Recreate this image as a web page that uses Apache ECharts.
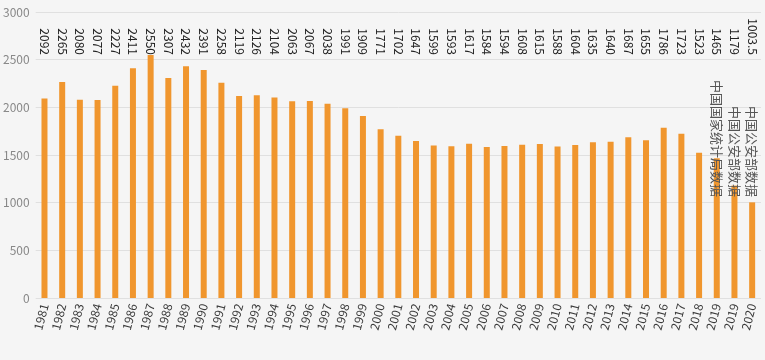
<!DOCTYPE html>
<html>
<head>
<meta charset="utf-8">
<script src="https://cdn.jsdelivr.net/npm/echarts@6/dist/echarts.min.js"></script>
<style>
html,body{margin:0;padding:0;background:#f5f5f5;}
#chart{width:765px;height:360px;}
</style>
</head>
<body>
<div id="chart"></div>
<script>
var years = ['1981','1982','1983','1984','1985','1986','1987','1988','1989','1990','1991','1992','1993','1994','1995','1996','1997','1998','1999','2000','2001','2002','2003','2004','2005','2006','2007','2008','2009','2010','2011','2012','2013','2014','2015','2016','2017','2018','2019','2019','2020'];
var births = [2092,2265,2080,2077,2227,2411,2550,2307,2432,2391,2258,2119,2126,2104,2063,2067,2038,1991,1909,1771,1702,1647,1599,1593,1617,1584,1594,1608,1615,1588,1604,1635,1640,1687,1655,1786,1723,1523,1465,1179,1003.5];
var notes = ['','','','','','','','','','','','','','','','','','','','','','','','','','','','','','','','','','','','','','','中国国家统计局数据','中国公安部数据','中国公安部数据'];
var yTicks = {min:0, max:3000, interval:500};

var chart = echarts.init(document.getElementById('chart'));
var font = '"Noto Sans CJK SC", "Noto Sans", sans-serif';
chart.setOption({
  backgroundColor:'#f5f5f5',
  animation:false,
  grid:{left:34, right:4, top:12, bottom:62},
  xAxis:[
    {type:'category', data:years, position:'bottom',
     axisLine:{show:false}, axisTick:{show:false},
     axisLabel:{rotate:75, interval:0, color:'#3a3a3a', fontSize:12, fontFamily:font, margin:6}},
    {type:'category', data:births.map(String), position:'top', offset:-43,
     axisLine:{show:false}, axisTick:{show:false},
     axisLabel:{rotate:90, interval:0, color:'#222', fontSize:12, fontFamily:font, margin:0}},
    {type:'category', data:notes, position:'top', offset:-185, z:10,
     axisLine:{show:false}, axisTick:{show:false},
     axisLabel:{rotate:90, interval:0, color:'#555', fontSize:13, fontFamily:font, margin:0}}
  ],
  yAxis:{type:'value', min:yTicks.min, max:yTicks.max, interval:yTicks.interval,
    axisLine:{show:false}, axisTick:{show:false},
    axisLabel:{color:'#888', fontSize:12, fontFamily:font, margin:6, formatter:function(v){return String(v);}},
    splitLine:{lineStyle:{color:'#e0e0e0'}}},
  series:[{type:'bar', data:births, barWidth:6, itemStyle:{color:'#f0962e'}}]
});
</script>
</body>
</html>
